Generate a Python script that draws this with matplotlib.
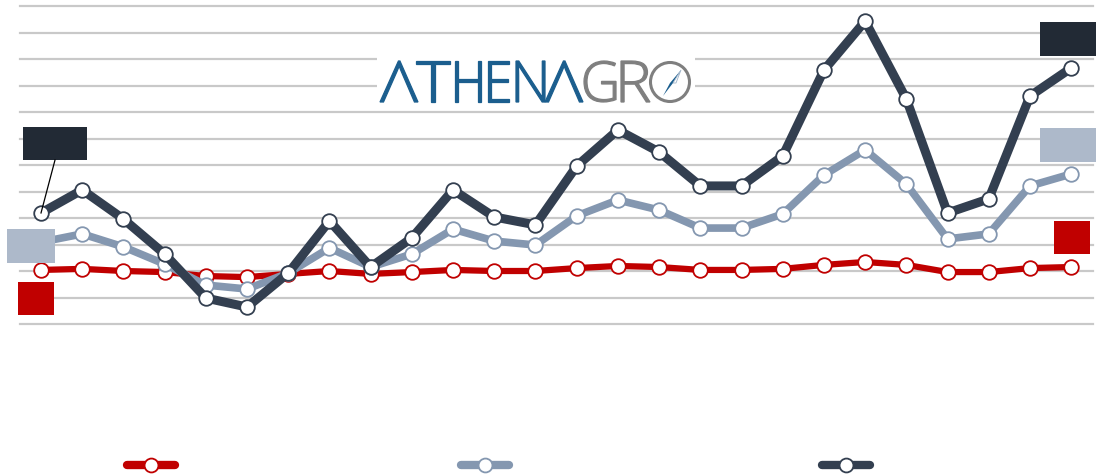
import numpy as np
import matplotlib.pyplot as plt
from matplotlib.patches import Rectangle, Circle, Polygon, PathPatch
from matplotlib.lines import Line2D
from matplotlib.textpath import TextPath
from matplotlib.font_manager import FontProperties
from matplotlib.transforms import Affine2D

# valeurs (unites = intervalles de grille)
periodes = np.arange(26)

serie_rouge = [2.04, 2.08, 2.00, 1.96, 1.81, 1.77, 1.89, 2.00, 1.89, 1.96, 2.04, 2.00, 2.00,
               2.11, 2.19, 2.15, 2.04, 2.04, 2.08, 2.23, 2.34, 2.23, 1.96, 1.96, 2.11, 2.15]
serie_grise = [3.09, 3.40, 2.91, 2.26, 1.47, 1.32, 1.92, 2.87, 2.15, 2.64, 3.58, 3.13, 2.98,
               4.08, 4.68, 4.30, 3.62, 3.62, 4.15, 5.62, 6.57, 5.28, 3.21, 3.40, 5.21, 5.66]
serie_noire = [4.19, 5.06, 3.96, 2.64, 0.98, 0.64, 1.92, 3.89, 2.15, 3.25, 5.06, 4.04, 3.74,
               5.96, 7.32, 6.49, 5.21, 5.21, 6.34, 9.58, 11.43, 8.49, 4.19, 4.72, 8.60, 9.66]

rouge = '#c00000'
gris = '#8497b0'
noir = '#333f50'
boite_noire = '#222a35'
boite_grise = '#adb9ca'
bleu_logo = '#1b5e8e'
gris_logo = '#7f7f7f'

W, H = 1096, 477
fig = plt.figure(figsize=(W / 100, H / 100), dpi=100)
ax = fig.add_axes([20 / W, (H - 325) / H, 1073 / W, 318 / H])
ax.set_xlim(-0.51, 25.53)
ax.set_ylim(0, 12)
for s in ax.spines.values():
    s.set_visible(False)
ax.set_xticks([])
ax.set_yticks([])
for g in range(13):
    ax.axhline(g, color='#c9c9c9', lw=1.6, zorder=0, clip_on=False)

# les trois series
for serie, coul, lw, z in [(serie_rouge, rouge, 4.5, 3), (serie_grise, gris, 5.5, 4), (serie_noire, noir, 6.5, 5)]:
    ax.plot(periodes, serie, color=coul, lw=lw, marker='o', ms=10.5, mfc='white',
            mec=coul, mew=1.3, zorder=z, clip_on=False, solid_capstyle='round')

# etiquettes (boites sans texte)
def boite(x0, x1, y0, y1, coul):
    ax.add_patch(Rectangle((x0, y0), x1 - x0, y1 - y0, facecolor=coul, edgecolor='none',
                           zorder=6, clip_on=False))

px = 41.2
py = 26.5
boite(-18 / px, 46 / px, serie_noire[0] + 53 / py, serie_noire[0] + 86 / py, boite_noire)
ax.plot([0, 14 / px], [serie_noire[0], serie_noire[0] + 53 / py], color='black', lw=0.9, zorder=6, clip_on=False)
boite(-34 / px, 14 / px, serie_grise[0] - 21 / py, serie_grise[0] + 13 / py, boite_grise)
boite(-23 / px, 13 / px, serie_rouge[0] - 45 / py, serie_rouge[0] - 12 / py, rouge)
boite(25 - 31 / px, 25 + 25 / px, serie_noire[-1] + 12 / py, serie_noire[-1] + 46 / py, boite_noire)
boite(25 - 31 / px, 25 + 25 / px, serie_grise[-1] + 12 / py, serie_grise[-1] + 46 / py, boite_grise)
boite(25 - 17 / px, 25 + 19 / px, serie_rouge[-1] + 13 / py, serie_rouge[-1] + 46 / py, rouge)

# logo : lettres etroites dessinees comme chemins
logo = fig.add_axes([0, 0, 1, 1], zorder=10)
logo.set_xlim(0, W)
logo.set_ylim(0, H)
logo.axis('off')
logo.patch.set_alpha(0)
logo.add_patch(Rectangle((377, H - 106), 318, 60, fc='white', ec='none'))
police = FontProperties(family='Open Sans', weight='light')
lettres = [('Λ', 380, 418, bleu_logo), ('T', 416, 450, bleu_logo), ('H', 455, 481, bleu_logo),
           ('E', 488, 509, bleu_logo), ('N', 516, 545, bleu_logo), ('Λ', 545, 583, bleu_logo),
           ('G', 584, 616, gris_logo), ('R', 621, 650, gris_logo)]
for car, x0, x1, coul in lettres:
    tp = TextPath((0, 0), car, size=60, prop=police)
    ext = tp.get_extents()
    tr = (Affine2D().translate(-ext.x0, -ext.y0)
          .scale((x1 - x0) / ext.width, 41 / ext.height)
          .translate(x0, H - 103))
    logo.add_patch(PathPatch(tr.transform_path(tp), fc=coul, ec=coul, lw=0.9))
logo.add_patch(Circle((670, H - 83), 19.5, fill=False, ec=gris_logo, lw=2.2))
logo.add_patch(Polygon([(681, H - 71), (670, H - 84), (663, H - 97), (673, H - 84)],
                       closed=True, fc=bleu_logo, ec='none'))
logo.add_patch(Polygon([(681, H - 71), (676, H - 84), (673, H - 84)],
                       closed=True, fc='white', ec='#9fb3c8', lw=0.6))

# legende (sans texte)
for xc, coul in [(151, rouge), (485, gris), (846, noir)]:
    yl = (H - 466) / H
    fig.add_artist(Line2D([(xc - 24) / W, (xc + 24) / W], [yl, yl], color=coul, lw=6,
                          solid_capstyle='round', transform=fig.transFigure))
    fig.add_artist(Line2D([xc / W], [yl], marker='o', ms=10, mfc='white', mec=coul, mew=1.3,
                          transform=fig.transFigure))

fig.savefig('out.png', dpi=100)
